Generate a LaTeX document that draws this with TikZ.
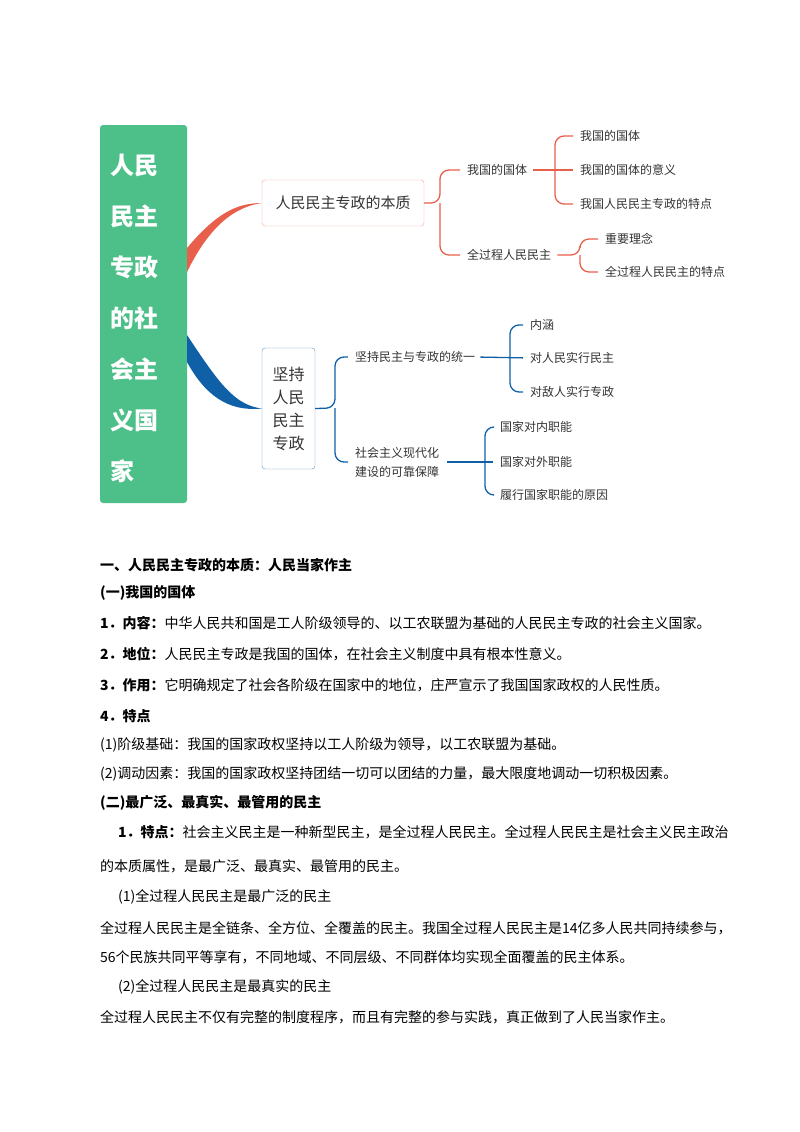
\documentclass[tikz,border=0pt]{standalone}
\usepackage{fontspec}
\setmainfont{Noto Sans CJK SC}
\definecolor{gr}{HTML}{4DBF88}
\definecolor{rd}{HTML}{E8604C}
\definecolor{bl}{HTML}{1060A8}
\definecolor{tx}{HTML}{333333}
\begin{document}
\begin{tikzpicture}[x=1pt,y=-1pt,
  leaf/.style={anchor=west,inner sep=0pt,font=\fontsize{12}{13}\selectfont,text=tx},
  body/.style={anchor=west,inner sep=0pt,font=\fontsize{14}{14}\selectfont,text=black},
  hd/.style={body,font=\fontsize{14}{14}\selectfont\bfseries},
  rl/.style={draw=rd,line width=1.3pt,rounded corners=9pt,shorten >=7pt},
  bll/.style={draw=bl,line width=1.3pt,rounded corners=9pt,shorten >=7pt}]
\useasboundingbox (0,0) rectangle (800,1132);
% main green box
\node[fill=gr,rounded corners=3pt,minimum width=87pt,minimum height=378pt,inner sep=0pt] (root) at (143.5,314) {};
\foreach \t [count=\i] in {人民,民主,专政,的社,会主,义国,家}
  \node[anchor=west,text=white,font=\fontsize{24}{24}\selectfont\bfseries,inner sep=0pt] (r\i) at (110,114+51*\i) {\t};
% level 1 boxes
\node[draw=rd!60,rounded corners=3pt,minimum width=162pt,minimum height=46pt,font=\fontsize{15}{16}\selectfont,text=tx] (b1) at (343,203) {人民民主专政的本质};
\node[draw=bl!70,rounded corners=3pt,minimum width=53pt,minimum height=121pt,font=\fontsize{16}{23}\selectfont,text=tx,align=center] (b2) at (288.5,408.5) {坚持\\人民\\民主\\专政};
% thick connectors
\fill[rd] (187,248) .. controls (215,215) and (235,203) .. (b1.west) .. controls (235,207) and (210,225) .. (187,272) -- cycle;
\fill[bl] (187,335) .. controls (220,385) and (235,405) .. (b2.west) .. controls (228,412) and (205,395) .. (187,362) -- cycle;
% red branch
\node[leaf] (a1) at (467,170) {我国的国体};
\node[leaf] (a2) at (467,255) {全过程人民民主};
\coordinate (ja) at (440,203);
\draw[rl] (b1.east) -- (ja) |- (a1.west);
\draw[rl] (ja) |- (a2.west);
\node[leaf] (a11) at (580,136) {我国的国体};
\node[leaf] (a12) at (580,170) {我国的国体的意义};
\node[leaf] (a13) at (580,204) {我国人民民主专政的特点};
\coordinate (ja1) at (555,170);
\draw[rl,shorten <=6pt] (a1.east) -- (a12.west);
\draw[rl] (ja1) |- (a11.west);
\draw[rl] (ja1) |- (a13.west);
\node[leaf] (a21) at (605,239) {重要理念};
\node[leaf] (a22) at (605,272) {全过程人民民主的特点};
\coordinate (ja2) at (580,255);
\draw[rl,shorten <=6pt] (a2.east) -- (ja2) |- (a21.west);
\draw[rl] (ja2) |- (a22.west);
% blue branch
\node[leaf] (c1) at (355,357) {坚持民主与专政的统一};
\node[leaf,align=left,font=\fontsize{12}{19}\selectfont] (c2) at (355,462) {社会主义现代化\\建设的可靠保障};
\coordinate (jc) at (335,408);
\draw[bll] (b2.east) -- (jc) |- (c1.west);
\draw[bll] (jc) |- (c2.west);
\node[leaf] (c11) at (530,325) {内涵};
\node[leaf] (c12) at (530,358) {对人民实行民主};
\node[leaf] (c13) at (530,392) {对敌人实行专政};
\coordinate (jc1) at (510,358);
\draw[bll,shorten <=5pt] (c1.east) -- (c12.west);
\draw[bll] (jc1) |- (c11.west);
\draw[bll] (jc1) |- (c13.west);
\node[leaf] (c21) at (500,427) {国家对内职能};
\node[leaf] (c22) at (500,462) {国家对外职能};
\node[leaf] (c23) at (500,495) {履行国家职能的原因};
\coordinate (jc2) at (485,462);
\draw[bll,shorten <=8pt] (c2.east) -- (c22.west);
\draw[bll] (jc2) |- (c21.west);
\draw[bll] (jc2) |- (c23.west);
% text
\node[hd] (t1) at (100,565) {一、人民民主专政的本质：人民当家作主};
\node[hd] (t2) at (100,593) {(一)我国的国体};
\node[body] (t3) at (100,623) {\textbf{1．内容：}中华人民共和国是工人阶级领导的、以工农联盟为基础的人民民主专政的社会主义国家。};
\node[body] (t4) at (100,654) {\textbf{2．地位：}人民民主专政是我国的国体，在社会主义制度中具有根本性意义。};
\node[body] (t5) at (100,685) {\textbf{3．作用：}它明确规定了社会各阶级在国家中的地位，庄严宣示了我国国家政权的人民性质。};
\node[hd] (t6) at (100,716) {4．特点};
\node[body] (t7) at (100,745) {(1)阶级基础：我国的国家政权坚持以工人阶级为领导，以工农联盟为基础。};
\node[body] (t8) at (100,774) {(2)调动因素：我国的国家政权坚持团结一切可以团结的力量，最大限度地调动一切积极因素。};
\node[hd] (t9) at (100,803) {(二)最广泛、最真实、最管用的民主};
\node[body] (t10) at (118,832) {\textbf{1．特点：}社会主义民主是一种新型民主，是全过程人民民主。全过程人民民主是社会主义民主政治};
\node[body] (t11) at (100,866) {的本质属性，是最广泛、最真实、最管用的民主。};
\node[body] (t12) at (118,897) {(1)全过程人民民主是最广泛的民主};
\node[body] (t13) at (100,928) {全过程人民民主是全链条、全方位、全覆盖的民主。我国全过程人民民主是14亿多人民共同持续参与，};
\node[body] (t14) at (100,957) {56个民族共同平等享有，不同地域、不同层级、不同群体均实现全面覆盖的民主体系。};
\node[body] (t15) at (118,987) {(2)全过程人民民主是最真实的民主};
\node[body] (t16) at (100,1017) {全过程人民民主不仅有完整的制度程序，而且有完整的参与实践，真正做到了人民当家作主。};
\end{tikzpicture}
\end{document}
